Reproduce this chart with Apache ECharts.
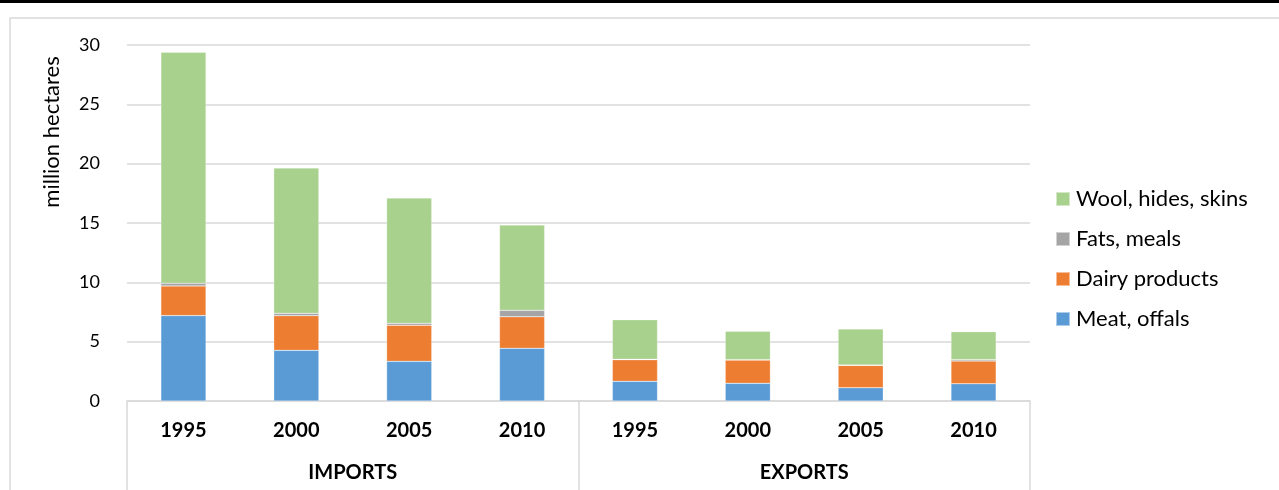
<!DOCTYPE html>
<html>
<head>
<meta charset="utf-8">
<script src="https://cdn.jsdelivr.net/npm/echarts@6/dist/echarts.min.js"></script>
<style>
  html, body { margin: 0; padding: 0; background: #fff; }
  #chart { width: 1279px; height: 490px; }
</style>
</head>
<body>
<div id="chart"></div>
<script>
const years = ['1995', '2000', '2005', '2010', '1995', '2000', '2005', '2010'];
const groups = ['IMPORTS', 'EXPORTS'];
const yTicks = [0, 5, 10, 15, 20, 25, 30];

const meat = [7.2, 4.27, 3.34, 4.44, 1.66, 1.49, 1.12, 1.46];
const dairy = [2.5, 2.92, 3.04, 2.66, 1.82, 1.96, 1.88, 1.91];
const fats = [0.23, 0.2, 0.17, 0.54, 0.03, 0.03, 0.03, 0.11];
const wool = [19.46, 12.24, 10.55, 7.19, 3.34, 2.39, 3.04, 2.36];

const font = 'Lato, "Open Sans", sans-serif';
const gridColor = '#D9D9D9';

const makeSeries = (name, data, color) => ({
    name: name,
    type: 'bar',
    stack: 'total',
    barWidth: '40%',
    data: data,
    itemStyle: { color: color, borderColor: 'rgba(255,255,255,0.5)', borderWidth: 0.5 }
});

const chart = echarts.init(document.getElementById('chart'), null, { renderer: 'canvas' });

const option = {
    animation: false,
    textStyle: { fontFamily: font },
    grid: { left: 127, right: 249, top: 45, bottom: 89, containLabel: false },
    legend: {
        orient: 'vertical',
        left: 1055,
        top: 188,
        padding: 0,
        itemWidth: 14,
        itemHeight: 14,
        itemGap: 18,
        icon: 'rect',
        data: ['Wool, hides, skins', 'Fats, meals', 'Dairy products', 'Meat, offals'],
        textStyle: { fontFamily: font, fontSize: 22, color: '#000', padding: [0, 0, 0, 1] }
    },
    xAxis: [
        {
            type: 'category',
            data: years,
            position: 'bottom',
            axisLine: { show: true, lineStyle: { color: gridColor, width: 1.5 } },
            axisTick: { show: false },
            axisLabel: { fontFamily: font, fontSize: 20, fontWeight: 'bold', color: '#000', margin: 20 }
        },
        {
            type: 'category',
            data: groups,
            position: 'bottom',
            axisLine: { show: false },
            axisTick: { show: true, length: 90, lineStyle: { color: gridColor, width: 1.5 } },
            axisLabel: { fontFamily: font, fontSize: 20, fontWeight: 'bold', color: '#000', margin: 62 }
        }
    ],
    yAxis: {
        type: 'value',
        min: yTicks[0],
        max: yTicks[yTicks.length - 1],
        interval: 5,
        name: 'million hectares',
        nameLocation: 'middle',
        nameGap: 64,
        nameRotate: 90,
        nameTextStyle: { fontFamily: font, fontSize: 22, color: '#000', padding: [0, 0, 0, 182] },
        axisLine: { show: false },
        axisTick: { show: false },
        axisLabel: { fontFamily: font, fontSize: 18, color: '#000', margin: 27 },
        splitLine: { lineStyle: { color: gridColor, width: 1.5 } }
    },
    graphic: [
        { type: 'rect', shape: { x: 0, y: 0, width: 1279, height: 3 }, style: { fill: '#000' }, silent: true },
        { type: 'rect', shape: { x: 10, y: 18, width: 1300, height: 500 }, style: { fill: 'none', stroke: gridColor, lineWidth: 1.5 }, silent: true, z: -1 }
    ],
    series: [
        makeSeries('Meat, offals', meat, '#5B9BD5'),
        makeSeries('Dairy products', dairy, '#ED7D31'),
        makeSeries('Fats, meals', fats, '#A5A5A5'),
        makeSeries('Wool, hides, skins', wool, '#A9D18E')
    ]
};

chart.setOption(option);
</script>
</body>
</html>
